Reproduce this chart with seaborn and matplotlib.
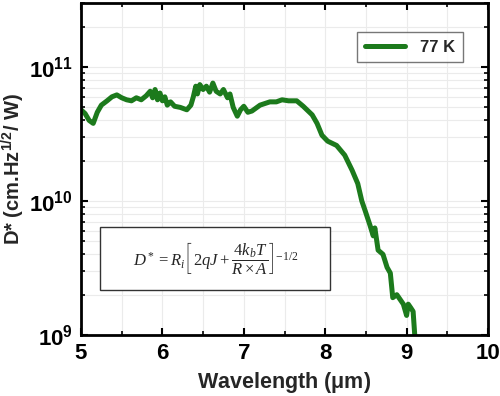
import numpy as np
import pandas as pd
import matplotlib
matplotlib.use("Agg")
import matplotlib.pyplot as plt
import seaborn as sns
from matplotlib.patches import Rectangle
from matplotlib.ticker import FixedLocator, LogLocator, FuncFormatter, NullFormatter

# Spectral detectivity at 77 K
wavelength = [5.00, 5.05, 5.10, 5.15, 5.20, 5.25, 5.32, 5.38, 5.44, 5.50,
              5.56, 5.62, 5.68, 5.74, 5.80, 5.85, 5.88, 5.91, 5.94, 5.97,
              6.00, 6.03, 6.06, 6.10, 6.15, 6.22, 6.30, 6.35, 6.38, 6.41,
              6.43, 6.46, 6.50, 6.54, 6.58, 6.62, 6.66, 6.71, 6.75, 6.80,
              6.83, 6.87, 6.92, 6.96, 7.00, 7.05, 7.10, 7.20, 7.32, 7.40,
              7.47, 7.55, 7.65, 7.73, 7.84, 7.90, 7.96, 8.03, 8.14, 8.24,
              8.33, 8.40, 8.45, 8.49, 8.55, 8.59, 8.61, 8.65, 8.71, 8.76,
              8.80, 8.83, 8.88, 8.96, 9.00, 9.02, 9.05, 9.08, 9.10, 9.11]
d_star = [4.8e10, 4.5e10, 4.0e10, 3.8e10, 4.6e10, 5.2e10, 5.6e10, 6.0e10, 6.2e10, 5.9e10,
          5.7e10, 5.6e10, 5.9e10, 5.7e10, 6.1e10, 6.6e10, 5.9e10, 6.8e10, 5.7e10, 6.4e10,
          5.6e10, 6.0e10, 5.2e10, 5.5e10, 5.1e10, 5.0e10, 4.8e10, 5.2e10, 6.0e10, 7.2e10,
          6.3e10, 7.4e10, 6.8e10, 7.2e10, 6.5e10, 7.6e10, 6.6e10, 6.3e10, 6.8e10, 5.9e10,
          6.3e10, 5.0e10, 4.3e10, 4.8e10, 5.1e10, 4.6e10, 4.7e10, 5.2e10, 5.5e10, 5.5e10,
          5.7e10, 5.6e10, 5.6e10, 5.1e10, 4.4e10, 3.8e10, 3.1e10, 2.8e10, 2.6e10, 2.2e10,
          1.7e10, 1.35e10, 1.0e10, 8.5e9, 6.6e9, 5.5e9, 6.3e9, 4.3e9, 4.0e9, 3.2e9,
          2.9e9, 1.9e9, 2.0e9, 1.7e9, 1.4e9, 1.7e9, 1.6e9, 1.5e9, 1.0e9, 0.9e9]

x_ticks = [5, 6, 7, 8, 9, 10]
legend_label = "77 K"

sns.set_theme(style="ticks")
plt.rcParams.update({
    "font.family": ["Liberation Sans", "DejaVu Sans"],
    "mathtext.fontset": "custom",
    "mathtext.rm": "Liberation Serif",
    "mathtext.it": "Liberation Serif:italic",
    "mathtext.bf": "Liberation Sans:bold",
})

df = pd.DataFrame({"wavelength": wavelength, "d_star": d_star})

fig = plt.figure(figsize=(5.0, 3.96), dpi=100)
ax = fig.add_axes([0.162, 0.154, 0.814, 0.838])

sns.lineplot(data=df, x="wavelength", y="d_star", ax=ax, color="#1c7a1c",
             linewidth=3.6, label=legend_label, sort=False)

ax.set_yscale("log")
ax.set_xlim(5, 10)
ax.set_ylim(1e9, 3e11)

ax.xaxis.set_major_locator(FixedLocator(x_ticks))
ax.xaxis.set_minor_locator(FixedLocator([5.5, 6.5, 7.5, 8.5, 9.5]))
ax.yaxis.set_major_locator(LogLocator(base=10))
ax.yaxis.set_minor_locator(LogLocator(base=10, subs=np.arange(2, 10)))
ax.yaxis.set_minor_formatter(NullFormatter())
ax.yaxis.set_major_formatter(FuncFormatter(
    lambda v, p: r"$\mathbf{10^{%d}}$" % int(round(np.log10(v)))))
ax.xaxis.set_major_formatter(FuncFormatter(lambda v, p: "%d" % v))

ax.grid(which="both", color="#ebebeb", linewidth=0.8)
ax.set_axisbelow(True)

ax.tick_params(which="both", direction="in", top=True, right=True, colors="black")
ax.tick_params(which="major", length=5, width=1.5, labelsize=16, pad=6)
ax.tick_params(which="minor", length=3, width=1.2)
for lbl in ax.get_xticklabels() + ax.get_yticklabels():
    lbl.set_fontweight("bold")
for s in ax.spines.values():
    s.set_linewidth(2)
    s.set_color("black")

ax.set_xlabel(r"Wavelength ($\mathbf{\mu}$m)", fontsize=15.5, fontweight="bold")
ax.set_ylabel(r"D* (cm.Hz$^{\mathbf{1/2}}$/ W)", fontsize=14.5, fontweight="bold", labelpad=2)

leg = ax.legend(loc="upper right", bbox_to_anchor=(0.958, 0.937), fontsize=12,
                frameon=True, fancybox=False, edgecolor="#555555",
                handlelength=2.4, borderpad=0.45, handletextpad=0.9)
leg.get_frame().set_linewidth(1.0)
for t in leg.get_texts():
    t.set_fontweight("bold")

# formula box
ax.add_patch(Rectangle((0.047, 0.136), 0.565, 0.189, transform=ax.transAxes,
                       facecolor="white", edgecolor="#333333", linewidth=1.0, zorder=3))
formula = r"$D^* = R_i\left[\,2qJ + \dfrac{4k_bT}{R\times A}\right]^{-1/2}$"
ax.text(0.33, 0.232, formula, transform=ax.transAxes, fontsize=12, fontweight="normal",
        ha="center", va="center", zorder=4)

fig.savefig("out.png", dpi=100)
